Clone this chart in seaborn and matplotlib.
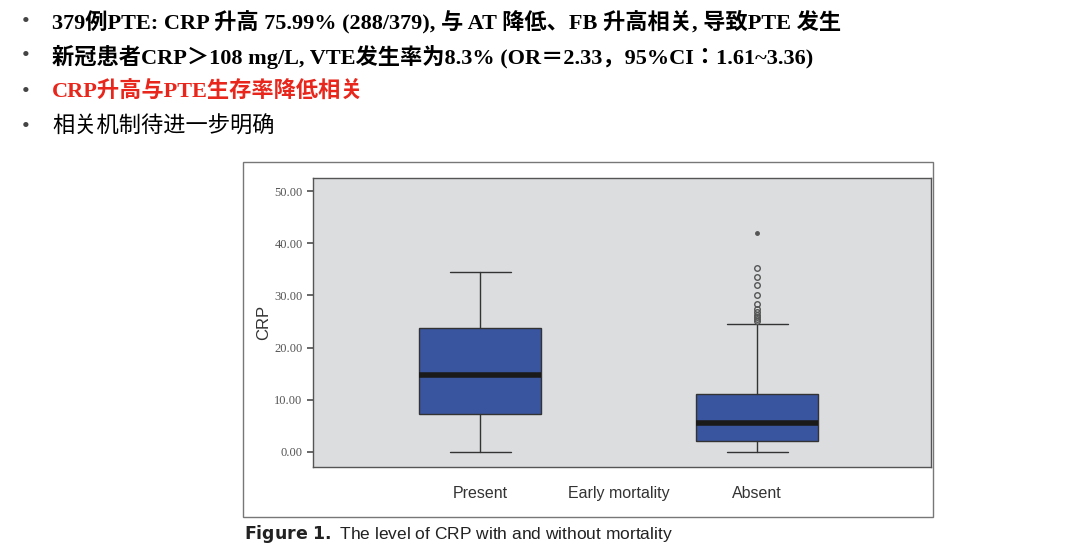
import matplotlib.pyplot as plt
import seaborn as sns

groups = ["Present", "Absent"]
whislo = [0.0, 0.0]
q1 = [7.2, 2.0]
med = [14.8, 5.5]
q3 = [23.8, 11.0]
whishi = [34.4, 24.6]
fliers_absent = [25.0, 25.4, 25.8, 26.3, 26.8, 27.4, 28.3, 30.1, 31.9, 33.6, 35.2]
extreme_absent = [42.0]
yticks = [0, 10, 20, 30, 40, 50]

bullets = [
    ("379例PTE: CRP 升高 75.99% (288/379), 与 AT 降低、FB 升高相关, 导致PTE 发生", "black", "bold"),
    ("新冠患者CRP＞108 mg/L, VTE发生率为8.3% (OR＝2.33，95%CI：1.61~3.36)", "black", "bold"),
    ("CRP升高与PTE生存率降低相关", "#e8261b", "bold"),
    ("相关机制待进一步明确", "black", "normal"),
]

sns.set_theme(style="white")
fonts = ["Liberation Serif", "Noto Sans CJK SC", "Noto Sans CJK JP", "Noto Sans CJK TC", "DejaVu Sans"]
plt.rcParams["font.family"] = fonts
fig = plt.figure(figsize=(10.8, 5.46), dpi=100)

for i, (txt, col, w) in enumerate(bullets):
    y = 1 - (22 + i * 35) / 546
    fig.text(22 / 1080, y, "•", fontsize=16, color="#444444", va="center")
    fig.text(52 / 1080, y, txt, fontsize=16, color=col, weight=w, va="center")

# outer frame around the figure image
frame = plt.Rectangle((243 / 1080, 1 - 517 / 546), 690 / 1080, 355 / 546,
                      transform=fig.transFigure, fill=False, edgecolor="#777777", lw=1)
fig.add_artist(frame)

ax = fig.add_axes([313 / 1080, 1 - 467 / 546, 618 / 1080, 289 / 546])
ax.set_facecolor("#dcdddf")
stats = []
for i, g in enumerate(groups):
    stats.append(dict(label=g, whislo=whislo[i], q1=q1[i], med=med[i], q3=q3[i],
                      whishi=whishi[i], fliers=fliers_absent if g == "Absent" else []))
ax.bxp(stats, positions=[1, 2], widths=0.44, patch_artist=True,
       boxprops=dict(facecolor="#3a55a0", edgecolor="#333333", lw=1),
       medianprops=dict(color="#1a1a1a", lw=4),
       whiskerprops=dict(color="#333333", lw=1),
       capprops=dict(color="#333333", lw=1),
       flierprops=dict(marker="o", markerfacecolor="none", markeredgecolor="#555555", markersize=4))
ax.plot([2] * len(extreme_absent), extreme_absent, marker="o", ls="", color="#555555", markersize=2.5)
ax.set_xlim(0.397, 2.628)
ax.set_ylim(-2.9, 52.5)
ax.set_yticks(yticks)
ax.set_yticklabels([f"{v:.2f}" for v in yticks], fontsize=9, color="#555555")
ax.tick_params(axis="y", left=True, length=4, color="#555555")
ax.set_xticks([1, 1.5, 2])
ax.set_xticklabels(["Present", "Early mortality", "Absent"], fontsize=11.5, color="#333333",
                   family="Liberation Sans")
ax.tick_params(axis="x", bottom=False, pad=8)
ax.set_ylabel("CRP", fontsize=12, color="#333333", labelpad=2, family="Liberation Sans")
for s in ax.spines.values():
    s.set_color("#555555")
    s.set_linewidth(1)

fig.text(244 / 1080, 1 - 534 / 546, r"$\bf{Figure\ 1.}$ The level of CRP with and without mortality",
         fontsize=12.5, color="#222222", va="center", family="Liberation Sans")

fig.savefig("out.png", dpi=100)
